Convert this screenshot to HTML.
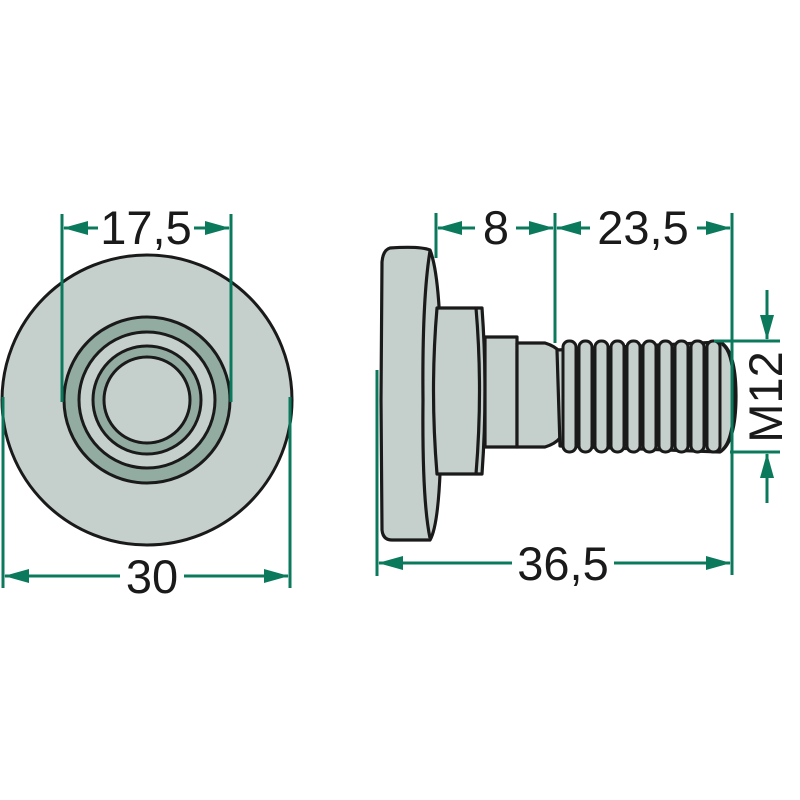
<!DOCTYPE html>
<html><head><meta charset="utf-8"><style>html,body{margin:0;padding:0;background:#fff}svg{display:block}</style></head>
<body>
<svg width="800" height="800" viewBox="0 0 800 800" xmlns="http://www.w3.org/2000/svg">
<!-- left view -->
<g stroke="#1a1a1a" stroke-width="3">
<circle cx="147" cy="400" r="145" fill="#c5d0cd"/>
<circle cx="147" cy="400" r="83" fill="#93aca2"/>
<circle cx="147" cy="400" r="68" fill="#c5d0cd"/>
<circle cx="147" cy="400" r="54" fill="#93aca2"/>
<circle cx="147" cy="400" r="43" fill="#c5d0cd"/>
</g>
<!-- right view -->
<g stroke="#1a1a1a" stroke-width="3.2" fill="#c5d0cd" stroke-linejoin="round">
<path d="M390,248 Q383,250 382,262 L381,400 L382,530 Q383,540 392,540 L430,540 Q442,520 441,400 Q442,280 430,250 Q420,246 390,248 Z"/>
<path d="M430,251 Q422,300 423,400 Q422,500 430,538" fill="none"/>
<path d="M437,308 L482,308 Q488,390 482,474 L437,474 Q430,390 437,308 Z"/>
<path d="M476,308 Q483,390 476,474" fill="none"/>
<rect x="485" y="337" width="32" height="110"/>
<path d="M517,343 L545,343 Q555,346 560,352 L560,438 Q555,444 545,447 L517,447 Z"/>
<path d="M557,350 L720,342 Q736,350 736,396 Q736,442 720,452 L560,446 Z"/>
</g>
<g stroke="#1a1a1a" stroke-width="3" fill="#c5d0cd">
<rect x="563" y="341" width="13" height="111" rx="6"/>
<rect x="579" y="341" width="13" height="111" rx="6"/>
<rect x="595" y="341" width="13" height="111" rx="6"/>
<rect x="611" y="341" width="13" height="111" rx="6"/>
<rect x="627" y="341" width="13" height="111" rx="6"/>
<rect x="643" y="341" width="13" height="111" rx="6"/>
<rect x="659" y="341" width="13" height="111" rx="6"/>
<rect x="675" y="341" width="13" height="111" rx="6"/>
<rect x="691" y="341" width="13" height="111" rx="6"/>
<rect x="707" y="341" width="13" height="111" rx="6"/>
<path d="M722,344 Q734,352 734,396 Q734,440 722,450" fill="none"/>
</g>
<!-- dimension lines -->
<g stroke="#0b7a5c" stroke-width="3" fill="none">
<line x1="62" y1="214" x2="62" y2="402"/>
<line x1="231" y1="214" x2="231" y2="402"/>
<line x1="64" y1="228" x2="98" y2="228"/>
<line x1="194" y1="228" x2="229" y2="228"/>
<line x1="3" y1="397" x2="3" y2="588"/>
<line x1="290" y1="397" x2="290" y2="588"/>
<line x1="5" y1="576" x2="120" y2="576"/>
<line x1="184" y1="576" x2="288" y2="576"/>
<line x1="436" y1="213" x2="436" y2="258"/>
<line x1="555" y1="213" x2="555" y2="343"/>
<line x1="732" y1="213" x2="732" y2="575"/>
<line x1="438" y1="228" x2="475" y2="228"/>
<line x1="516" y1="228" x2="553" y2="228"/>
<line x1="557" y1="228" x2="590" y2="228"/>
<line x1="697" y1="228" x2="730" y2="228"/>
<line x1="379" y1="563" x2="512" y2="563"/>
<line x1="614" y1="563" x2="730" y2="563"/>
<line x1="377" y1="370" x2="377" y2="576"/>
<line x1="714" y1="341" x2="780" y2="341"/>
<line x1="730" y1="452" x2="780" y2="452"/>
<line x1="767" y1="290" x2="767" y2="339"/>
<line x1="767" y1="503" x2="767" y2="454"/>
</g>
<g fill="#0b7a5c">
<polygon points="63,228 88,221 88,235"/>
<polygon points="230,228 205,221 205,235"/>
<polygon points="4,576 29,569 29,583"/>
<polygon points="289,576 264,569 264,583"/>
<polygon points="437,228 462,221 462,235"/>
<polygon points="554,228 529,221 529,235"/>
<polygon points="556,228 581,221 581,235"/>
<polygon points="731,228 706,221 706,235"/>
<polygon points="378,563 403,556 403,570"/>
<polygon points="731,563 706,556 706,570"/>
<polygon points="767,340 760,315 774,315"/>
<polygon points="767,453 760,478 774,478"/>
</g>
<g font-family="Liberation Sans, sans-serif" font-size="47" fill="#1a1a1a" text-anchor="middle">
<text x="146" y="244">17,5</text>
<text x="152" y="593">30</text>
<text x="496" y="244">8</text>
<text x="643" y="244">23,5</text>
<text x="563" y="580">36,5</text>
<text transform="translate(782,397) rotate(-90)">M12</text>
</g>
</svg>
</body></html>
